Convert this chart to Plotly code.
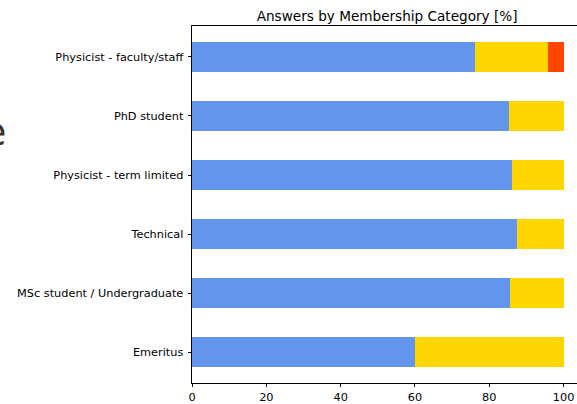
import plotly.graph_objects as go

categories = ["Physicist - faculty/staff", "PhD student", "Physicist - term limited",
              "Technical", "MSc student / Undergraduate", "Emeritus"]
series_a = [76.2, 85.2, 86.1, 87.5, 85.7, 60.0]
series_b = [19.5, 14.8, 13.9, 12.5, 14.3, 40.0]
series_c = [4.3, 0.0, 0.0, 0.0, 0.0, 0.0]
series_names = ["A", "B", "C"]
colors = ["#6495ED", "#FFD700", "#FF4500"]
x_ticks = [0, 20, 40, 60, 80, 100]

W, H = 577, 404
L, R, T, B = 192, 0, 26, 17
pxu = 3.716
xmax = (W - L) / pxu

fig = go.Figure()
for name, vals, col in zip(series_names, [series_a, series_b, series_c], colors):
    fig.add_trace(go.Bar(y=categories, x=vals, orientation="h", name=name,
                         marker=dict(color=col, line=dict(width=0)), width=0.5))

font = "DejaVu Sans"
fs = 11.3
fig.update_layout(
    width=W, height=H, barmode="stack", showlegend=False,
    margin=dict(l=L, r=R, t=T, b=B, pad=0),
    paper_bgcolor="white", plot_bgcolor="white",
    font=dict(family=font, size=fs, color="black"),
    title=dict(text="Answers by Membership Category [%]", x=(L + L + 105 * pxu) / 2 / W,
               xanchor="center", y=1 - 16 / H, yanchor="middle",
               font=dict(family=font, size=13.6, color="black")),
    xaxis=dict(range=[0, xmax], tickvals=x_ticks, ticks="outside", ticklen=3.5,
               tickwidth=0.8, tickcolor="black", showgrid=False, zeroline=False,
               showline=True, linecolor="black", linewidth=0.8, mirror=True,
               tickfont=dict(family=font, size=fs, color="black")),
    yaxis=dict(categoryorder="array", categoryarray=categories, range=[5.525, -0.525],
               ticks="outside", ticklen=3.5, tickwidth=0.8, tickcolor="black",
               showgrid=False, zeroline=False, showline=True, linecolor="black",
               linewidth=0.8, ticklabelstandoff=2,
               tickfont=dict(family=font, size=fs, color="black")),
)

fig.add_annotation(text="e", xref="paper", yref="paper", showarrow=False,
                   x=(8 - L) / (W - L), xanchor="right",
                   y=1 - (133 - T) / (H - T - B), yanchor="middle",
                   font=dict(family=font, size=38, color="#333"))

fig.write_html("out.html", config={"displayModeBar": False},
               post_script="document.body.style.margin='0';document.body.style.overflow='hidden';")
